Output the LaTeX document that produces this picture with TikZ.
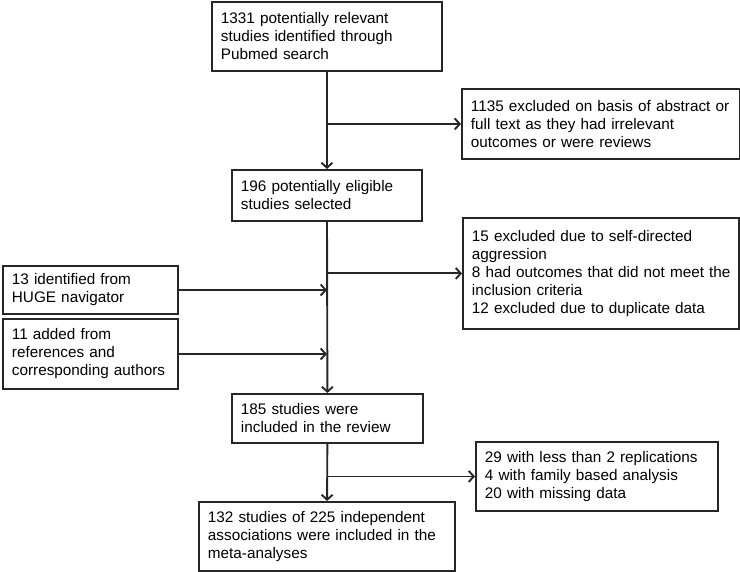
\documentclass[tikz,border=0pt]{standalone}
\usepackage{fontspec}
\setmainfont{Liberation Sans}
\usetikzlibrary{arrows.meta}
\begin{document}
\begin{tikzpicture}[x=1pt,y=1pt,
  box/.style={draw=black!85, line width=1.9pt, rectangle, anchor=north west, inner xsep=9pt, inner ysep=0pt, align=left,
    font=\fontsize{15.3}{18}\selectfont},
  arr/.style={draw=black!85, line width=1.9pt, -{Straight Barb[length=5pt,width=11pt,line width=1.9pt]}}]
\useasboundingbox (0,0) rectangle (740,-572);
\node[box, minimum width=230, minimum height=69, text width=212] (b1) at (211,-1)
  {\mbox{1331 potentially relevant}\\\mbox{studies identified through}\\\mbox{Pubmed search}};
\node[box, minimum width=278, minimum height=70, text width=260] (b1135) at (461,-88)
  {\mbox{1135 excluded on basis of abstract or}\\\mbox{full text as they had irrelevant}\\\mbox{outcomes or were reviews}};
\node[box, minimum width=190, minimum height=51, text width=172] (b196) at (231,-169)
  {\mbox{196 potentially eligible}\\\mbox{studies selected}};
\node[box, minimum width=276, minimum height=111, text width=258] (b15) at (462,-217)
  {\mbox{15 excluded due to self-directed}\\\mbox{aggression}\\\mbox{8 had outcomes that did not meet the}\\\mbox{inclusion criteria}\\\mbox{12 excluded due to duplicate data}};
\node[box, minimum width=175, minimum height=48, text width=157] (b13) at (2,-265)
  {\mbox{13 identified from}\\\mbox{HUGE navigator}};
\node[box, minimum width=175, minimum height=70, text width=157] (b11) at (2,-318)
  {\mbox{11 added from}\\\mbox{references and}\\\mbox{corresponding authors}};
\node[box, minimum width=191, minimum height=49, text width=173] (b185) at (231,-393)
  {\mbox{185 studies were}\\\mbox{included in the review}};
\node[box, minimum width=242, minimum height=69, text width=224] (b29) at (475,-441)
  {\mbox{29 with less than 2 replications}\\\mbox{4 with family based analysis}\\\mbox{20 with missing data}};
\node[box, minimum width=256, minimum height=69, text width=238] (b132) at (198,-501)
  {\mbox{132 studies of 225 independent}\\\mbox{associations were included in the}\\\mbox{meta-analyses}};
\draw[arr] (b1) -- (b196);
\draw[arr] (b196) -- (b185);
\draw[arr] (b185) -- (b132);
\draw[arr] (b1135.west -| b1.south) -- (b1135.west);
\draw[arr] (b15.west -| b196.south) -- (b15.west);
\draw[arr] (b29.west -| b185.south) -- (b29.west);
\draw[arr] (b13.east) -- (b13.east -| b196.south);
\draw[arr] (b11.east) -- (b11.east -| b196.south);
\end{tikzpicture}
\end{document}
